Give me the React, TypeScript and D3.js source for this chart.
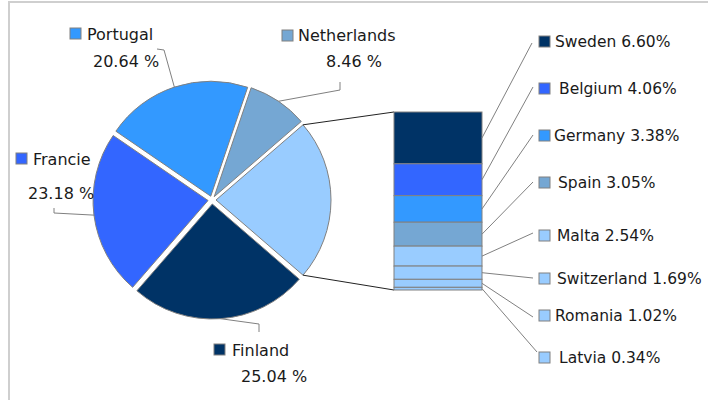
import React from 'react';
import * as d3 from 'd3';

// main pie (clockwise, starting at Netherlands); "Other" is filled from the secondary bar
const pieNames = ['Netherlands', 'Other', 'Finland', 'Francie', 'Portugal'];
const pieValues = [8.46, 0, 25.04, 23.18, 20.64];
const pieColors = ['#75a7d3', '#99ccff', '#003366', '#3366ff', '#3399ff'];

// secondary stacked bar, top to bottom
const subNames = ['Sweden', 'Belgium', 'Germany', 'Spain', 'Malta', 'Switzerland', 'Romania', 'Latvia'];
const subValues = [6.6, 4.06, 3.38, 3.05, 2.54, 1.69, 1.02, 0.34];
const subColors = ['#003366', '#3366ff', '#3399ff', '#75a7d3', '#99ccff', '#99ccff', '#99ccff', '#99ccff'];

// layout: hand placed labels (like the spreadsheet did)
const pieLabelLayout: Record<string, { sq: [number, number]; name: [number, number]; pct: [number, number]; elbow: [number, number][] }> = {
  Portugal: { sq: [70, 28], name: [87, 40], pct: [93, 67], elbow: [[164, 50], [157, 49]] },
  Netherlands: { sq: [282, 30], name: [298, 41], pct: [326, 67], elbow: [[340, 90], [340, 82]] },
  Francie: { sq: [16, 153], name: [33, 165], pct: [28, 199], elbow: [[54, 213], [54, 208]] },
  Finland: { sq: [214, 344], name: [232, 356], pct: [241, 382], elbow: [[259, 324], [259, 332]] },
};
const subLabelLayout = [
  { sq: [539, 36], tx: 555, end: [532, 43] },
  { sq: [539, 83], tx: 559, end: [533, 87] },
  { sq: [539, 130], tx: 554, end: [533, 135] },
  { sq: [539, 177], tx: 558, end: [533, 182] },
  { sq: [539, 230], tx: 557, end: [533, 233] },
  { sq: [539, 273], tx: 557, end: [533, 278] },
  { sq: [539, 310], tx: 555, end: [533, 317] },
  { sq: [539, 352], tx: 559, end: [537, 352] },
];

const W = 708;
const H = 400;
const cx = 212;
const cy = 200;
const R = 115;
const explode = 4;
const barX = 394;
const barW = 88;
const barTop = 112;
const barBottom = 290;
const font = '"DejaVu Sans", Verdana, sans-serif';
const textColor = '#1a1a1a';
const lineColor = '#808080';

const App: React.FC = () => {
  const otherTotal = d3.sum(subValues);
  const values = pieValues.map((v, i) => (pieNames[i] === 'Other' ? otherTotal : v));
  const total = d3.sum(values);

  // center the "Other" slice on 3 o'clock
  const otherIdx = pieNames.indexOf('Other');
  const before = d3.sum(values.slice(0, otherIdx));
  const startAngle = Math.PI / 2 - ((before + otherTotal / 2) / total) * 2 * Math.PI;

  const pie = d3.pie<number>().sort(null).startAngle(startAngle).endAngle(startAngle + 2 * Math.PI);
  const arcs = pie(values);
  const arc = d3.arc<d3.PieArcDatum<number>>().innerRadius(0).outerRadius(R);

  const shift = (a: d3.PieArcDatum<number>) => {
    const m = (a.startAngle + a.endAngle) / 2;
    return [Math.sin(m) * explode, -Math.cos(m) * explode];
  };
  const polar = (a: number, r: number, off: number[]) => [cx + off[0] + Math.sin(a) * r, cy + off[1] - Math.cos(a) * r];

  const yBar = d3.scaleLinear().domain([0, otherTotal]).range([barTop, barBottom]);
  const cum = subValues.map((_, i) => d3.sum(subValues.slice(0, i)));

  const otherArc = arcs[otherIdx];
  const otherOff = shift(otherArc);
  const cTop = polar(otherArc.startAngle, R, otherOff);
  const cBot = polar(otherArc.endAngle, R, otherOff);

  return (
    <div style={{ position: 'fixed', left: 0, top: 0 }}>
      <svg width={W} height={H} style={{ display: 'block', background: '#fff' }}>
        <rect x={9} y={2} width={W + 20} height={H + 20} fill="#fff" stroke="#cfcfcf" strokeWidth={2} />

        {/* main pie */}
        {arcs.map((a, i) => {
          const off = shift(a);
          return (
            <path
              key={pieNames[i]}
              d={arc(a) || ''}
              transform={`translate(${cx + off[0]},${cy + off[1]})`}
              fill={pieColors[i]}
              stroke={lineColor}
              strokeWidth={1}
            />
          );
        })}

        {/* pie labels */}
        {arcs.map((a, i) => {
          const name = pieNames[i];
          const lay = pieLabelLayout[name];
          if (!lay) return null;
          const off = shift(a);
          const edge = polar((a.startAngle + a.endAngle) / 2, R, off);
          const pts = [edge, ...lay.elbow];
          return (
            <g key={'lbl' + name}>
              <polyline points={pts.map((p) => p.join(',')).join(' ')} fill="none" stroke={lineColor} strokeWidth={1} />
              <rect x={lay.sq[0]} y={lay.sq[1]} width={11} height={11} fill={pieColors[i]} stroke={lineColor} strokeWidth={1} />
              <text x={lay.name[0]} y={lay.name[1]} fontFamily={font} fontSize={16} fill={textColor}>
                {name}
              </text>
              <text x={lay.pct[0]} y={lay.pct[1]} fontFamily={font} fontSize={16} fill={textColor}>
                {values[i].toFixed(2)} %
              </text>
            </g>
          );
        })}

        {/* connectors from pie to bar */}
        <line x1={cTop[0]} y1={cTop[1]} x2={barX} y2={yBar(0)} stroke="#222" strokeWidth={1} />
        <line x1={cBot[0]} y1={cBot[1]} x2={barX} y2={yBar(otherTotal)} stroke="#222" strokeWidth={1} />

        {/* secondary bar */}
        {subValues.map((v, i) => (
          <rect
            key={subNames[i]}
            x={barX}
            y={yBar(cum[i])}
            width={barW}
            height={yBar(cum[i] + v) - yBar(cum[i])}
            fill={subColors[i]}
            stroke={lineColor}
            strokeWidth={1}
          />
        ))}

        {/* secondary labels */}
        {subValues.map((v, i) => {
          const lay = subLabelLayout[i];
          const midY = yBar(cum[i] + v / 2);
          return (
            <g key={'sl' + subNames[i]}>
              <line x1={barX + barW} y1={midY} x2={lay.end[0]} y2={lay.end[1]} stroke={lineColor} strokeWidth={1} />
              <rect x={lay.sq[0]} y={lay.sq[1]} width={11} height={11} fill={subColors[i]} stroke={lineColor} strokeWidth={1} />
              <text x={lay.tx} y={lay.sq[1] + 10.5} fontFamily={font} fontSize={15.5} fill={textColor}>
                {subNames[i]} {v.toFixed(2)}%
              </text>
            </g>
          );
        })}
      </svg>
    </div>
  );
};

export default App;
